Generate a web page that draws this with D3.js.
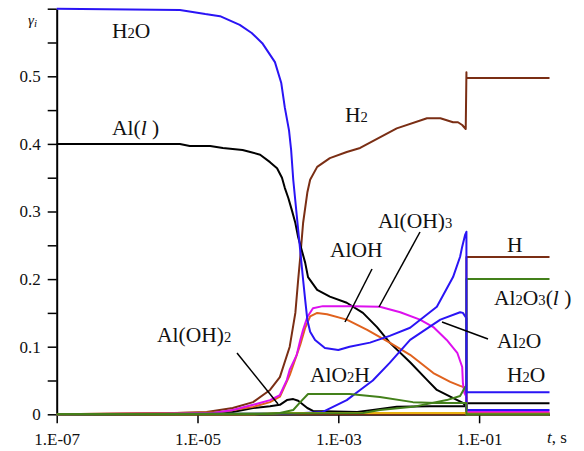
<!DOCTYPE html>
<html><head><meta charset="utf-8">
<script src="https://cdn.jsdelivr.net/npm/d3@7"></script>
<style>
body{margin:0;background:#fff}
svg{display:block;font-family:"Liberation Serif","Times New Roman",serif}
</style>
</head><body>
<svg id="c" width="584" height="451"></svg>
<script>
// ---- tick data ----
const xTicks = [1e-7, 1e-5, 1e-3, 1e-1];
const xTickLabels = ["1.E-07", "1.E-05", "1.E-03", "1.E-01"];
const yTicks = [0, 0.05, 0.1, 0.15, 0.2, 0.25, 0.3, 0.35, 0.4, 0.45, 0.5, 0.55, 0.6];
const yTickLabels = ["0", "", "0.1", "", "0.2", "", "0.3", "", "0.4", "", "0.5", "", ""];

// ---- series data (log10 t, mole fraction) ----
const h2oLogT = [-7,-5.25,-4.89,-4.68,-4.40,-4.23,-4.08,-3.90,-3.81,-3.76,-3.70,-3.67,-3.64,-3.57,-3.50,-3.47,-3.44,-3.40,-3.33,-3.19,-3.00,-2.84,-2.55,-2.27,-1.98,-1.60,-1.37,-1.27,-1.24,-1.20,-1.18,-1.18,0];
const h2oVal  = [0.600,0.598,0.592,0.589,0.576,0.564,0.549,0.521,0.490,0.454,0.420,0.391,0.347,0.273,0.199,0.169,0.140,0.122,0.110,0.098,0.095,0.100,0.106,0.116,0.128,0.159,0.203,0.233,0.248,0.265,0.270,0.0325,0.0325];

const alLogT = [-7,-5.25,-5.11,-4.82,-4.64,-4.36,-4.25,-4.11,-3.97,-3.87,-3.80,-3.76,-3.71,-3.66,-3.61,-3.57,-3.52,-3.47,-3.43,-3.30,-3.12,-2.88,-2.65,-2.45,-2.27,-1.98,-1.74,-1.60,-1.41,-1.23,-1.18,-1.18,0];
const alVal  = [0.400,0.400,0.397,0.397,0.394,0.391,0.388,0.384,0.373,0.364,0.350,0.335,0.320,0.302,0.283,0.262,0.243,0.224,0.203,0.184,0.174,0.165,0.150,0.129,0.106,0.077,0.051,0.036,0.026,0.017,0.011,0.0165,0.0165];

const h2LogT = [-7,-5.29,-4.87,-4.50,-4.21,-3.97,-3.83,-3.69,-3.61,-3.57,-3.54,-3.50,-3.44,-3.40,-3.30,-3.12,-2.88,-2.69,-2.17,-1.74,-1.55,-1.37,-1.30,-1.24,-1.19,-1.18,-1.18,0];
const h2Val  = [0,0.002,0.0034,0.0093,0.018,0.036,0.055,0.100,0.150,0.199,0.233,0.283,0.328,0.347,0.366,0.379,0.388,0.394,0.423,0.438,0.438,0.432,0.432,0.428,0.422,0.506,0.4975,0.4975];

const hLogT = [-7,-1.18,-1.18,0];
const hVal  = [0,0,0.2327,0.2327];

const aloh3LogT = [-7,-5.25,-4.78,-4.50,-4.21,-3.97,-3.83,-3.73,-3.69,-3.59,-3.54,-3.50,-3.44,-3.36,-3.22,-2.79,-2.41,-2.12,-1.84,-1.65,-1.46,-1.31,-1.24,-1.23,-1.21,-1.18,-1.18,0];
const aloh3Val  = [0,0.001,0.002,0.0064,0.014,0.021,0.0285,0.051,0.066,0.088,0.110,0.125,0.144,0.157,0.160,0.160,0.159,0.151,0.140,0.129,0.110,0.091,0.070,0.046,0.032,0.026,0.004,0.004];

const alohLogT = [-7,-5.35,-4.68,-4.21,-3.97,-3.83,-3.69,-3.54,-3.47,-3.40,-3.30,-3.16,-2.88,-2.59,-2.27,-1.98,-1.65,-1.41,-1.27,-1.18,-1.18,0];
const alohVal  = [0,0.002,0.003,0.011,0.018,0.026,0.058,0.103,0.128,0.145,0.150,0.148,0.140,0.125,0.106,0.088,0.061,0.048,0.042,0.039,0.002,0.002];

const aloh2LogT = [-7,-5.11,-4.50,-4.21,-3.97,-3.83,-3.73,-3.64,-3.57,-3.44,-3.36,-2.73,-2.51,-2.17,-1.70,-1.18,-1.18,0];
const aloh2Val  = [0,0.0005,0.0034,0.0093,0.012,0.014,0.021,0.0225,0.020,0.0093,0.005,0.0034,0.0064,0.011,0.012,0.012,0.001,0.001];

const alo2hLogT = [-7,-4.0,-3.83,-3.64,-3.54,-3.43,-2.84,-2.41,-1.94,-1.60,-1.31,-1.18,-1.18,0];
const alo2hVal  = [0,0.0005,0.002,0.0064,0.018,0.030,0.030,0.0256,0.018,0.0167,0.0167,0.0167,0,0];

const al2o3LogT = [-7,-2.65,-2.41,-1.94,-1.46,-1.27,-1.20,-1.18,-1.18,0];
const al2o3Val  = [0,0.002,0.0064,0.011,0.021,0.027,0.040,0.042,0.2,0.2];

const al2oLogT = [-7,-3.69,-3.22,-2.88,-2.69,-2.51,-2.27,-1.98,-1.55,-1.27,-1.23,-1.18,-1.18,0];
const al2oVal  = [0,0.001,0.0035,0.021,0.036,0.050,0.076,0.110,0.140,0.151,0.150,0.142,0.0064,0.0064];

const minorLogT = [-7,-4.2,-3.8,-1.18,-1.18,0];
const minorVal  = [0,0,0.002,0.002,0,0];

// ---- drawing ----
const svg = d3.select("#c");
const x = d3.scaleLog().domain([1e-7, 1]).range([56.7, 549.5]);
const y = d3.scaleLinear().domain([0, 0.6]).range([414.3, 8.7]);

const yAxis = svg.append("g").attr("transform", "translate(56.7,0)")
  .call(d3.axisLeft(y).tickValues(yTicks).tickSize(9).tickSizeOuter(0).tickPadding(7)
    .tickFormat((d, i) => yTickLabels[i]));
const xAxis = svg.append("g").attr("transform", "translate(0,414.3)")
  .call(d3.axisBottom(x).tickValues(xTicks).tickSize(9).tickSizeOuter(0).tickPadding(10)
    .tickFormat((d, i) => xTickLabels[i]));
[yAxis, xAxis].forEach(g => {
  g.select(".domain").attr("stroke", "#000").attr("stroke-width", 2);
  g.selectAll(".tick line").attr("stroke", "#000").attr("stroke-width", 1.5);
  g.selectAll(".tick text").attr("font-family", "Liberation Serif, serif")
    .attr("font-size", 17).attr("fill", "#111");
});

const line = d3.line().x(d => x(Math.pow(10, d[0]))).y(d => y(d[1]));
const series = [
  [hLogT, hVal, "#7a2e14"],
  [h2LogT, h2Val, "#7a2e14"],
  [alLogT, alVal, "#000000"],
  [aloh2LogT, aloh2Val, "#000000"],
  [alohLogT, alohVal, "#e0621e"],
  [aloh3LogT, aloh3Val, "#dd10ee"],
  [al2oLogT, al2oVal, "#2a14f5"],
  [minorLogT, minorVal, "#e8b010"],
  [alo2hLogT, alo2hVal, "#43801a"],
  [al2o3LogT, al2o3Val, "#43801a"],
  [h2oLogT, h2oVal, "#2a14f5"]
];
series.forEach(([lt, v, c]) => {
  svg.append("path").datum(d3.zip(lt, v)).attr("d", line)
    .attr("fill", "none").attr("stroke", c).attr("stroke-width", 2)
    .attr("stroke-linejoin", "round");
});

// leader lines
const leaders = [
  [237, 353, 278, 404],
  [372, 269, 345, 322],
  [420, 232, 379, 307],
  [488, 339, 442, 322]
];
leaders.forEach(l => svg.append("line").attr("x1", l[0]).attr("y1", l[1]).attr("x2", l[2]).attr("y2", l[3])
  .attr("stroke", "#000").attr("stroke-width", 1.5));

// labels: parts [text, type] type 0 normal, 1 subscript, 2 italic
function label(px, py, parts, size) {
  size = size || 21.5;
  const t = svg.append("text").attr("x", px).attr("y", py).attr("font-size", size).attr("fill", "#111");
  parts.forEach(([s, k]) => {
    const sp = t.append("tspan").text(s);
    if (k === 1) sp.attr("font-size", size * 0.68);
    if (k === 2) sp.attr("font-style", "italic");
  });
}
label(112, 38, [["H",0],["2",1],["O",0]]);
label(112, 135, [["Al(",0],["l",2],[" )",0]]);
label(345, 122, [["H",0],["2",1]]);
label(378, 228, [["Al(OH)",0],["3",1]]);
label(330, 257, [["AlOH",0]]);
label(157, 342, [["Al(OH)",0],["2",1]]);
label(310, 382, [["AlO",0],["2",1],["H",0]]);
label(497, 348, [["Al",0],["2",1],["O",0]]);
label(507, 382, [["H",0],["2",1],["O",0]]);
label(507, 252, [["H",0]]);
label(494, 305, [["Al",0],["2",1],["O",0],["3",1],["(",0],["l",2],[" )",0]]);
label(547, 443, [["t",2],[", s",0]], 17);

const g = svg.append("text").attr("x", 28).attr("y", 25).attr("font-size", 15).attr("fill", "#111")
  .attr("font-style", "italic");
g.append("tspan").text("γ");
g.append("tspan").text("i").attr("font-size", 11).attr("dy", 2);
</script>
</body></html>
